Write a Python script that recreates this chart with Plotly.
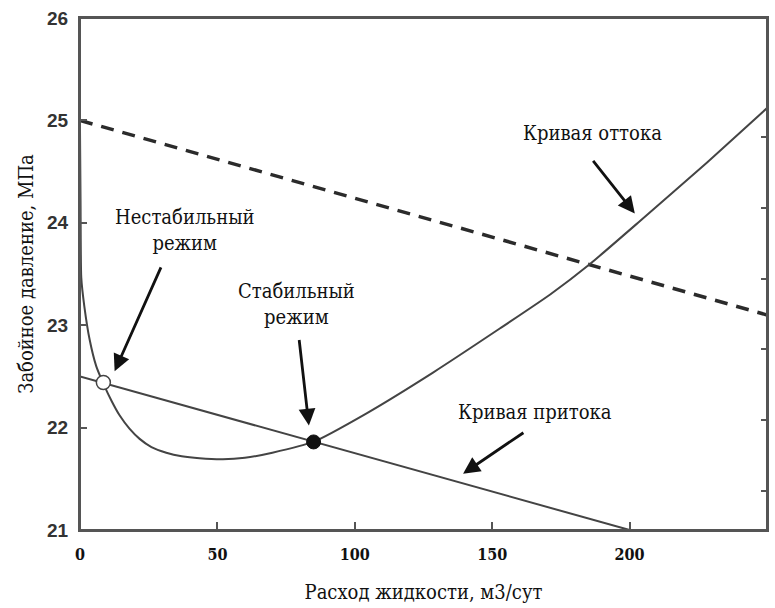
import plotly.graph_objects as go

# ---- data ----
outflow_q = [0.0, 0.2, 0.45, 1.6, 3.5, 5.9, 8.5, 11.5, 14.4, 18.0, 21.7, 26.0, 31.4, 37.0,
             43.5, 52.0, 60.0, 70.0, 84.8, 104.3, 128.6, 152.9, 171.1, 185.7, 203.9, 228.2, 250.0]
outflow_p = [24.9, 24.2, 23.47, 23.18, 22.86, 22.60, 22.43, 22.26, 22.12, 21.99, 21.89, 21.81,
             21.755, 21.72, 21.70, 21.69, 21.705, 21.755, 21.86, 22.14, 22.54, 22.97, 23.30,
             23.60, 24.02, 24.59, 25.12]

inflow_q = [0, 200]
inflow_p = [22.5, 21.0]

dashed_q = [0, 250]
dashed_p = [25.0, 23.1]

unstable_q, unstable_p = [8.5], [22.44]
stable_q, stable_p = [85.0], [21.86]

x_ticks = [0, 50, 100, 150, 200, 250]
y_ticks = [21, 22, 23, 24, 25, 26]

serif = "DejaVu Serif Condensed, DejaVu Serif"
sans = "Liberation Sans"

fig = go.Figure()
fig.add_trace(go.Scatter(x=dashed_q, y=dashed_p, mode="lines",
                         line=dict(color="#2b2b2b", width=3.5, dash="13px,9px"),
                         hoverinfo="skip"))
fig.add_trace(go.Scatter(x=inflow_q, y=inflow_p, mode="lines",
                         line=dict(color="#444444", width=2), hoverinfo="skip"))
fig.add_trace(go.Scatter(x=outflow_q, y=outflow_p, mode="lines",
                         line=dict(color="#444444", width=2, shape="spline", smoothing=0.5),
                         hoverinfo="skip"))
fig.add_trace(go.Scatter(x=unstable_q, y=unstable_p, mode="markers",
                         marker=dict(size=14, color="white", line=dict(color="#444444", width=1.5)),
                         hoverinfo="skip"))
fig.add_trace(go.Scatter(x=stable_q, y=stable_p, mode="markers",
                         marker=dict(size=14, color="#111111", line=dict(color="#111111", width=1)),
                         hoverinfo="skip"))
# empty trace so the right-hand tick axis is rendered
fig.add_trace(go.Scatter(x=[], y=[], yaxis="y2", mode="lines", hoverinfo="skip"))

# text labels
texts = [
    ("Нестабильный<br>режим", 38.1, 23.93),
    ("Стабильный<br>режим", 78.9, 23.21),
    ("Кривая оттока", 186.6, 24.88),
    ("Кривая притока", 165.5, 22.15),
]
for t, x, y in texts:
    fig.add_annotation(x=x, y=y, text=t, showarrow=False, xref="x", yref="y",
                       font=dict(family=serif, size=20, color="#111111"))

# arrows: (tip_x, tip_y, tail_x, tail_y)
arrows = [
    (12.6, 22.55, 29.7, 23.58),
    (83.3, 22.02, 79.7, 22.87),
    (201.9, 24.09, 186.3, 24.62),
    (139.4, 21.55, 161.9, 21.96),
]
for x, y, ax, ay in arrows:
    fig.add_annotation(x=x, y=y, ax=ax, ay=ay, xref="x", yref="y", axref="x", ayref="y",
                       text="", showarrow=True, arrowhead=2, arrowsize=1.2, arrowwidth=2.8,
                       arrowcolor="#111111", standoff=0, startstandoff=0)

# plot frame
fig.add_shape(type="rect", xref="paper", yref="paper", x0=0, y0=0, x1=1, y1=1,
              line=dict(color="#555555", width=2), layer="above")

fig.update_layout(
    width=775, height=608,
    margin=dict(l=80, r=8, t=16, b=76),
    paper_bgcolor="white", plot_bgcolor="white",
    showlegend=False,
    xaxis=dict(range=[0, 250], tickvals=x_ticks, ticktext=[str(v) for v in x_ticks],
               showgrid=False, zeroline=False, showline=True, linecolor="#555555", linewidth=2,
               mirror=True, ticks="inside", ticklen=8, tickwidth=2, tickcolor="#555555",
               tickfont=dict(family=serif, size=16, color="#111111", weight="bold"),
               ticklabelstandoff=9,
               title=dict(text="Расход жидкости, м3/сут", standoff=22,
                          font=dict(family=serif, size=20, color="#111111"))),
    yaxis=dict(range=[21, 26], tickvals=y_ticks, ticktext=[str(v) for v in y_ticks],
               showgrid=False, zeroline=False, showline=True, linecolor="#555555", linewidth=2,
               mirror=False, ticks="inside", ticklen=7, tickwidth=2, tickcolor="#555555",
               tickfont=dict(family=sans, size=19, color="#333333", weight="bold"),
               ticklabelstandoff=6,
               title=dict(text="Забойное давление, МПа", standoff=8,
                          font=dict(family=serif, size=20, color="#111111"))),
    yaxis2=dict(overlaying="y", side="right", anchor="x", range=[-0.545, 6.672],
                tickvals=[0, 1, 2, 3, 4, 5], showticklabels=False, showgrid=False,
                zeroline=False, showline=True, linecolor="#555555", linewidth=2,
                ticks="inside", ticklen=6, tickwidth=1.5, tickcolor="#555555"),
)

fig.write_html("out.html")
